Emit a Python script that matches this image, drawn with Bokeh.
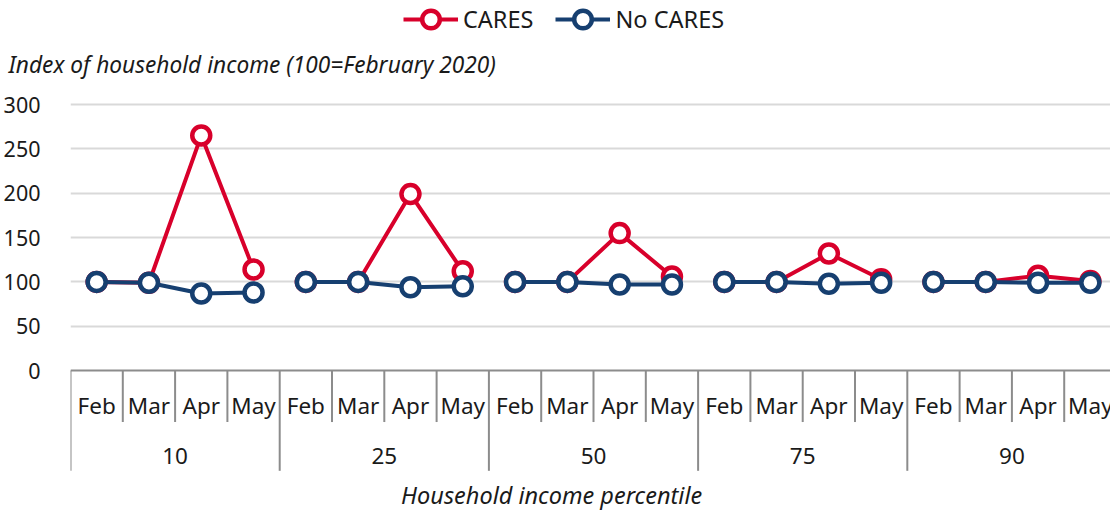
import numpy as np
from bokeh.plotting import figure
from bokeh.layouts import column
from bokeh.models import Range1d, FixedTicker, Legend, LegendItem, Title, Span
from bokeh.core.properties import value
from bokeh.embed import file_html
from bokeh.resources import INLINE

percentiles = ["10", "25", "50", "75", "90"]
months = ["Feb", "Mar", "Apr", "May"]
cares_values = [100, 99, 265, 114,
                100, 100, 199, 112,
                100, 100, 155, 106,
                100, 100, 132, 103,
                100, 100, 107, 101]
no_cares_values = [100, 99, 87, 88,
                   100, 100, 94, 95,
                   100, 100, 97, 97,
                   100, 100, 98, 99,
                   100, 100, 99, 99]
y_ticks = [0, 50, 100, 150, 200, 250, 300]
x_title = "Household income percentile"
y_title = "Index of household income (100=February 2020)"

FONT = "Noto Sans"
RED = "#D8002B"
BLUE = "#163F70"
GRAY = "#8C8C8C"
TXT = "#1a1a1a"
W = 1110

nm = len(months)
centres = [g * nm + m + 0.5 for g in range(len(percentiles)) for m in range(nm)]
month_labels = [months[m] for g in range(len(percentiles)) for m in range(nm)]


def broken(vals):
    xs, ys = [], []
    for g in range(len(percentiles)):
        if g:
            xs.append(np.nan)
            ys.append(np.nan)
        for m in range(nm):
            i = g * nm + m
            xs.append(centres[i])
            ys.append(vals[i])
    return xs, ys


line_style = dict(line_width=4)
marker_style = dict(marker="circle", size=18, fill_color="white", line_width=4.5)

# ---- header: legend + y-axis title ----
head = figure(width=W, height=90, output_backend="svg", toolbar_location=None,
              x_range=Range1d(0, 1), y_range=Range1d(0, 1),
              min_border_left=70, min_border_right=0, min_border_top=0, min_border_bottom=48)
head.axis.visible = False
head.grid.visible = False
head.outline_line_color = None
# legend-only renderers (their point lies outside the header's visible range)
hrl = head.line(x=centres[:1], y=cares_values[:1], line_color=RED, **line_style)
hrs = head.scatter(x=centres[:1], y=cares_values[:1], line_color=RED, **marker_style)
hbl = head.line(x=centres[:1], y=no_cares_values[:1], line_color=BLUE, **line_style)
hbs = head.scatter(x=centres[:1], y=no_cares_values[:1], line_color=BLUE, **marker_style)
legend = Legend(items=[LegendItem(label="CARES", renderers=[hrl, hrs]),
                       LegendItem(label="No CARES", renderers=[hbl, hbs])],
                orientation="horizontal", location=(333, 1), border_line_color=None,
                background_fill_alpha=0, label_text_font=FONT, label_text_font_size="23.5px",
                label_text_color=TXT, glyph_width=55, glyph_height=44, spacing=22,
                label_standoff=5, padding=2, margin=0)
head.add_layout(legend, "center")
head.add_layout(Title(text=y_title, align="left", text_font=FONT, text_font_size="22.7px",
                      text_font_style="italic", text_color=TXT, offset=-62, standoff=9),
                "below")

# ---- main chart ----
p = figure(width=W, height=422, output_backend="svg", toolbar_location=None,
           x_range=Range1d(0, 19.885), y_range=Range1d(-160, 315.8),
           min_border_left=70, min_border_right=0, min_border_top=0, min_border_bottom=0)
p.outline_line_color = None
p.background_fill_color = "white"

p.yaxis.ticker = FixedTicker(ticks=y_ticks)
p.yaxis.axis_line_color = None
p.yaxis.major_tick_line_color = None
p.yaxis.minor_tick_line_color = None
p.yaxis.major_label_text_font = FONT
p.yaxis.major_label_text_font_size = "21.5px"
p.yaxis.major_label_text_color = TXT
p.yaxis.major_label_standoff = 24
p.xaxis.visible = False

p.xgrid.visible = False
p.ygrid.ticker = FixedTicker(ticks=[t for t in y_ticks if t > 0])
p.ygrid.grid_line_color = "#D9D9D9"
p.ygrid.grid_line_width = 2

p.add_layout(Span(location=0, dimension="width", line_color=GRAY, line_width=2))

bounds = list(range(len(percentiles) * nm + 1))
y_end = [-113 if b % nm == 0 else -58 for b in bounds]
p.segment(x0=bounds, y0=[0] * len(bounds), x1=bounds, y1=y_end, line_color=GRAY, line_width=2)

p.text(x=centres, y=[-39.5] * len(centres), text=month_labels, text_align="center",
       text_baseline="middle", text_font=value(FONT), text_font_size="22.5px", text_color=TXT)
group_x = [g * nm + nm / 2 for g in range(len(percentiles))]
p.text(x=group_x, y=[-96] * len(group_x), text=percentiles, text_align="center",
       text_baseline="middle", text_font=value(FONT), text_font_size="22.5px", text_color=TXT)
p.text(x=[len(centres) * 0.46], y=[-140], text=[x_title], text_align="center",
       text_baseline="middle", text_font=value(FONT), text_font_size="23.5px",
       text_font_style="italic", text_color=TXT)

rx, ry = broken(cares_values)
bx, by = broken(no_cares_values)
p.line(rx, ry, line_color=RED, **line_style)
p.scatter(centres, cares_values, line_color=RED, **marker_style)
p.line(bx, by, line_color=BLUE, **line_style)
p.scatter(centres, no_cares_values, line_color=BLUE, **marker_style)

layout = column(head, p, spacing=0)
open("out.html", "w").write(file_html(layout, INLINE))
